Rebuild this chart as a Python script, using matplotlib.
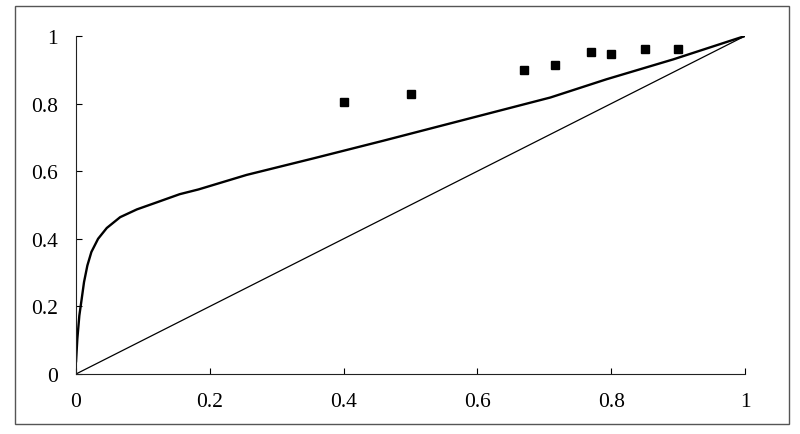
import matplotlib
matplotlib.use("Agg")
import matplotlib.pyplot as plt
from matplotlib.patches import Rectangle

# Equilibrium curve
curve_x = [0.0, 0.002, 0.005, 0.0085, 0.012, 0.017, 0.023, 0.033, 0.046, 0.066,
           0.091, 0.121, 0.155, 0.183, 0.255, 0.355, 0.459, 0.584, 0.709,
           0.793, 0.893, 1.0]
curve_y = [0.035, 0.104, 0.173, 0.222, 0.272, 0.321, 0.361, 0.400, 0.432, 0.464,
           0.487, 0.508, 0.532, 0.546, 0.589, 0.638, 0.690, 0.754, 0.818,
           0.872, 0.931, 1.0]

# Diagonal line
diag_x = [0.0, 1.0]
diag_y = [0.0, 1.0]

# Experimental points
pts_x = [0.40, 0.50, 0.67, 0.716, 0.77, 0.80, 0.85, 0.90]
pts_y = [0.805, 0.828, 0.90, 0.914, 0.953, 0.947, 0.962, 0.962]

ticks = [0, 0.2, 0.4, 0.6, 0.8, 1]
tick_labels = ["0", "0.2", "0.4", "0.6", "0.8", "1"]

plt.rcParams['font.family'] = ['Liberation Serif', 'DejaVu Serif']

fig = plt.figure(figsize=(8, 4.35), dpi=100)
ax = fig.add_axes([76/800, 1 - 375/435, (745 - 76)/800, (375 - 37)/435])

ax.plot(curve_x, curve_y, color='black', lw=1.7, solid_joinstyle='round',
        solid_capstyle='round')
ax.plot(diag_x, diag_y, color='black', lw=0.9)
ax.plot(pts_x, pts_y, linestyle='none', marker='s', markersize=5.8,
        color='black')

ax.set_xlim(0, 1)
ax.set_ylim(0, 1)
ax.set_xticks(ticks)
ax.set_xticklabels(tick_labels)
ax.set_yticks(ticks)
ax.set_yticklabels(tick_labels)
ax.spines['top'].set_visible(False)
ax.spines['right'].set_visible(False)
for s in ('left', 'bottom'):
    ax.spines[s].set_linewidth(0.8)
    ax.spines[s].set_color('#222222')
ax.tick_params(axis='x', direction='in', length=4.5, width=0.8, pad=13,
               labelsize=15.5)
ax.tick_params(axis='y', direction='in', length=4.5, width=0.8, pad=13,
               labelsize=15.5)
ax.patch.set_visible(False)

# outer frame
fig.patches.append(Rectangle((15/800, 1 - 425/435), (789 - 15)/800,
                             (425 - 7)/435, transform=fig.transFigure,
                             fill=False, edgecolor='#555555', lw=1.0))

fig.savefig("out.png", dpi=100)
